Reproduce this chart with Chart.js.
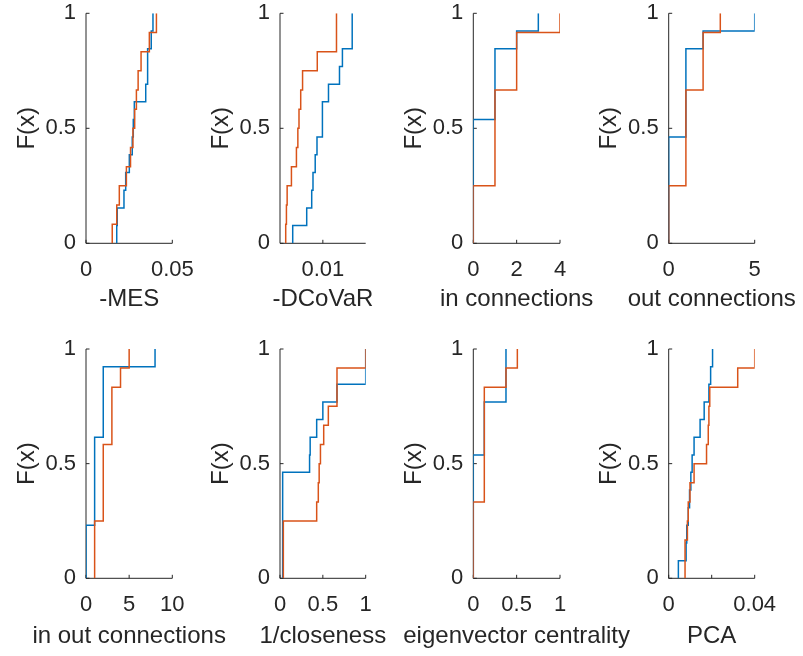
<!DOCTYPE html>
<html><head><meta charset="utf-8">
<script src="https://cdn.jsdelivr.net/npm/chart.js@4"></script>
<style>
html,body{margin:0;padding:0;background:#fff;}
#wrap{position:relative;width:803px;height:656px;overflow:hidden;background:#fff;}
canvas{position:absolute;left:0;top:0;}
</style></head><body><div id="wrap"></div>
<script>
// ---- axis descriptions ----
const xTitles = ['-MES','-DCoVaR','in connections','out connections','in out connections','1/closeness','eigenvector centrality','PCA'];
const xMins = [0, 0.004, 0, 0, 0, 0, 0, 0];
const xMaxs = [0.05, 0.016, 4, 5, 10, 1, 1, 0.04];
const xTickValues = [[0,0.05],[0.01],[0,2,4],[0,5],[0,5,10],[0,0.5,1],[0,0.5,1],[0,0.02,0.04]];
const xTickLabels = [['0','0.05'],['0.01'],['0','2','4'],['0','5'],['0','5','10'],['0','0.5','1'],['0','0.5','1'],['0','','0.04']];
const yTitle = 'F(x)';
const yTickValues = [0, 0.5, 1];
const yTickLabels = ['0', '0.5', '1'];

// ---- empirical CDF steps: x where F jumps, F value after jump ----
// -MES
const mesBlueX = [0.0178, 0.0181, 0.0220, 0.0230, 0.0251, 0.0268, 0.0274, 0.0280, 0.0346, 0.0357, 0.0378, 0.0388];
const mesBlueF = [0.077, 0.154, 0.231, 0.308, 0.385, 0.462, 0.538, 0.615, 0.692, 0.846, 0.923, 1];
const mesOrangeX = [0.0152, 0.0178, 0.0193, 0.0234, 0.0258, 0.0272, 0.0282, 0.0292, 0.0302, 0.0319, 0.0367, 0.0408];
const mesOrangeF = [0.083, 0.167, 0.25, 0.333, 0.417, 0.5, 0.583, 0.667, 0.75, 0.833, 0.917, 1];
// -DCoVaR
const dcvBlueX = [0.00578, 0.00774, 0.00844, 0.00862, 0.00893, 0.00918, 0.00994, 0.01079, 0.01233, 0.01274, 0.01411];
const dcvBlueF = [0.077, 0.154, 0.231, 0.308, 0.385, 0.462, 0.615, 0.692, 0.769, 0.846, 1];
const dcvOrangeX = [0.0048, 0.0049, 0.0050, 0.0056, 0.0063, 0.0065, 0.00666, 0.0069, 0.00716, 0.00922, 0.01191];
const dcvOrangeF = [0.083, 0.167, 0.25, 0.333, 0.417, 0.5, 0.583, 0.667, 0.75, 0.833, 1];
// in connections
const inBlueX = [0, 1, 2, 3];
const inBlueF = [0.538, 0.846, 0.923, 1];
const inOrangeX = [0, 1, 2, 4];
const inOrangeF = [0.25, 0.667, 0.917, 1];
// out connections
const outBlueX = [0, 1, 2, 5];
const outBlueF = [0.462, 0.846, 0.923, 1];
const outOrangeX = [0, 1, 2, 3];
const outOrangeF = [0.25, 0.667, 0.917, 1];
// in out connections
const ioBlueX = [0, 1, 2, 8];
const ioBlueF = [0.231, 0.615, 0.923, 1];
const ioOrangeX = [1, 2, 3, 4, 5];
const ioOrangeF = [0.25, 0.583, 0.833, 0.917, 1];
// 1/closeness
const clBlueX = [0.031, 0.345, 0.352, 0.428, 0.5, 0.665, 1.0];
const clBlueF = [0.462, 0.538, 0.615, 0.692, 0.769, 0.846, 1];
const clOrangeX = [0.039, 0.428, 0.447, 0.457, 0.472, 0.51, 0.564, 0.665, 1.0];
const clOrangeF = [0.25, 0.333, 0.417, 0.5, 0.583, 0.667, 0.75, 0.917, 1];
// eigenvector centrality
const evBlueX = [0, 0.127, 0.377];
const evBlueF = [0.538, 0.769, 1];
const evOrangeX = [0, 0.127, 0.377, 0.508];
const evOrangeF = [0.333, 0.833, 0.917, 1];
// PCA
const pcaBlueX = [0.0045, 0.0081, 0.0084, 0.0091, 0.0097, 0.0103, 0.0109, 0.0118, 0.0146, 0.0165, 0.0187, 0.0195, 0.0204];
const pcaBlueF = [0.077, 0.154, 0.231, 0.308, 0.385, 0.462, 0.538, 0.615, 0.692, 0.769, 0.846, 0.923, 1];
const pcaOrangeX = [0.0076, 0.0087, 0.0091, 0.0099, 0.0118, 0.0176, 0.0184, 0.0187, 0.0191, 0.0321, 0.0400];
const pcaOrangeF = [0.167, 0.25, 0.333, 0.417, 0.5, 0.583, 0.667, 0.75, 0.833, 0.917, 1];

const blueSeries = [[mesBlueX,mesBlueF],[dcvBlueX,dcvBlueF],[inBlueX,inBlueF],[outBlueX,outBlueF],[ioBlueX,ioBlueF],[clBlueX,clBlueF],[evBlueX,evBlueF],[pcaBlueX,pcaBlueF]];
const orangeSeries = [[mesOrangeX,mesOrangeF],[dcvOrangeX,dcvOrangeF],[inOrangeX,inOrangeF],[outOrangeX,outOrangeF],[ioOrangeX,ioOrangeF],[clOrangeX,clOrangeF],[evOrangeX,evOrangeF],[pcaOrangeX,pcaOrangeF]];

// ---- layout ----
const W = 803, H = 656;
const plotLefts = [86, 280, 473.3, 668.7];
const plotRights = [172.3, 365.7, 560, 754.7];
const plotTops = [13.3, 349];
const plotBottoms = [243.3, 578.3];
const titleOffsets = [56, 58];
const Y_BOX = 80, X_BOX = 70;
const FONT = "'Liberation Sans', Arial, Helvetica, sans-serif";
const TXT = '#262626';
const BLUE = '#0072BD', ORANGE = '#D95319';

function stepPoints(xs, fs) {
  const pts = [{x: xs[0], y: 0}];
  xs.forEach((v, i) => pts.push({x: v, y: fs[i]}));
  return pts;
}

const axesPlugin = {
  id: 'matlabAxes',
  beforeDatasetsDraw(chart) {
    const {ctx, chartArea: a} = chart;
    const xs = chart.scales.x, ys = chart.scales.y;
    ctx.save();
    ctx.strokeStyle = TXT;
    ctx.lineWidth = 1;
    ctx.beginPath();
    ctx.moveTo(a.left, a.top);
    ctx.lineTo(a.left, a.bottom);
    ctx.lineTo(a.right, a.bottom);
    ys.ticks.forEach(t => { const p = ys.getPixelForValue(t.value); ctx.moveTo(a.left, p); ctx.lineTo(a.left + 3.5, p); });
    xs.ticks.forEach(t => { const p = xs.getPixelForValue(t.value); ctx.moveTo(p, a.bottom); ctx.lineTo(p, a.bottom - 3.5); });
    ctx.stroke();
    ctx.restore();
  },
  afterDraw(chart, args, opts) {
    const {ctx, chartArea: a} = chart;
    ctx.save();
    ctx.font = '24px ' + FONT;
    ctx.fillStyle = TXT;
    ctx.textAlign = 'center';
    ctx.textBaseline = 'middle';
    ctx.fillText(opts.text, (a.left + a.right) / 2, a.bottom + opts.offset);
    ctx.restore();
  }
};

const wrap = document.getElementById('wrap');
for (let i = 0; i < 8; i++) {
  const r = Math.floor(i / 4), c = i % 4;
  const cv = document.createElement('canvas');
  cv.width = W; cv.height = H;
  cv.style.width = W + 'px'; cv.style.height = H + 'px';
  wrap.appendChild(cv);
  const pl = plotLefts[c], pr = plotRights[c], pt = plotTops[r], pb = plotBottoms[r];
  new Chart(cv, {
    type: 'line',
    data: {
      datasets: [
        {data: stepPoints(blueSeries[i][0], blueSeries[i][1]), borderColor: BLUE, borderWidth: 1.5, pointRadius: 0, stepped: 'before', fill: false, order: 2},
        {data: stepPoints(orangeSeries[i][0], orangeSeries[i][1]), borderColor: ORANGE, borderWidth: 1.5, pointRadius: 0, stepped: 'before', fill: false, order: 1}
      ]
    },
    options: {
      responsive: false, animation: false, events: [],
      layout: {padding: {left: pl - Y_BOX, right: W - pr, top: pt, bottom: H - pb - X_BOX}},
      plugins: {legend: {display: false}, tooltip: {enabled: false}, matlabAxes: {text: xTitles[i], offset: titleOffsets[r]}},
      scales: {
        x: {
          type: 'linear', min: xMins[i], max: xMaxs[i],
          afterBuildTicks: s => { s.ticks = xTickValues[i].map(v => ({value: v})); },
          ticks: {callback: (v, idx) => xTickLabels[i][idx], font: {family: FONT, size: 22}, color: TXT, padding: 13, maxRotation: 0, autoSkip: false},
          grid: {display: false, drawTicks: false},
          border: {display: false},
          title: {display: false},
          afterFit: s => { s.height = X_BOX; s.paddingLeft = 0; s.paddingRight = 0; s.paddingTop = 0; s.paddingBottom = 0; }
        },
        y: {
          type: 'linear', min: 0, max: 1,
          afterBuildTicks: s => { s.ticks = yTickValues.map(v => ({value: v})); },
          ticks: {callback: (v, idx) => yTickLabels[idx], font: {family: FONT, size: 22}, color: TXT, padding: 10},
          grid: {display: false, drawTicks: false},
          border: {display: false},
          title: {display: true, text: yTitle, font: {family: FONT, size: 24}, color: TXT, padding: {top: 6.6, bottom: 0}},
          afterFit: s => { s.width = Y_BOX; s.paddingLeft = 0; s.paddingRight = 0; s.paddingTop = 0; s.paddingBottom = 0; }
        }
      }
    },
    plugins: [axesPlugin]
  });
}
</script></body></html>
